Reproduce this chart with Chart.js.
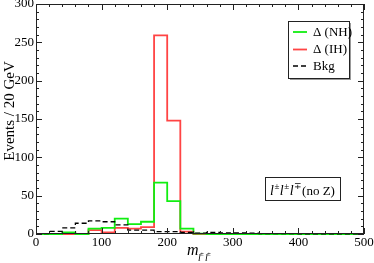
<!DOCTYPE html>
<html>
<head>
<meta charset="utf-8">
<script src="https://cdn.jsdelivr.net/npm/chart.js@4/dist/chart.umd.min.js"></script>
<style>
  html, body { margin: 0; padding: 0; background: #fff; }
  #wrap { width: 374px; height: 263px; }
</style>
</head>
<body>
<div id="wrap"><canvas id="histChart" width="374" height="263"></canvas></div>
<script>
// Bin edges (GeV), 20 GeV bins
const binEdges = [0, 20, 40, 60, 80, 100, 120, 140, 160, 180, 200, 220, 240, 260,
                  280, 300, 320, 340, 360, 380, 400, 420, 440, 460, 480, 500];

// Events per bin (25 bins)
const deltaNH = [0, 0, 2, 0, 7, 8, 20, 13, 16, 67, 43, 7, 0.5, 0, 0, 0, 0, 0, 0, 0, 0, 0, 0, 0, 0];
const deltaIH = [0, 0, 0, 0, 5, 2, 8, 7, 9, 259, 148, 3, 0, 0, 0, 0, 0, 0, 0, 0, 0, 0, 0, 0, 0];
const bkg     = [0.5, 3.5, 8, 14, 17, 16, 12, 5, 5, 3, 3, 2, 1, 2, 1.5, 1.5, 1, 0.5, 0.5, 0.4, 0.3, 0.3, 0.3, 0.2, 0.2];

const xTicks = [0, 100, 200, 300, 400, 500];
const yTicks = [0, 50, 100, 150, 200, 250, 300];

const serif = '"Liberation Serif", "DejaVu Serif", serif';

// turn per-bin values into step points (last edge repeats last value)
function stepPoints(values) {
    const pts = values.map((v, i) => ({ x: binEdges[i], y: v }));
    pts.push({ x: binEdges[binEdges.length - 1], y: values[values.length - 1] });
    return pts;
}

// axes, frame, ticks, legend and labels drawn by hand
const decorPlugin = {
    id: 'decor',
    afterDatasetsDraw(chart) {
        const ctx = chart.ctx;
        const xs = chart.scales.x, ys = chart.scales.y;
        const a = chart.chartArea;
        ctx.save();

        // frame
        ctx.strokeStyle = '#222';
        ctx.lineWidth = 1;
        ctx.strokeRect(a.left + 0.5, a.top + 0.5, a.right - a.left - 1, a.bottom - a.top - 1);

        // inward ticks on all four sides
        ctx.beginPath();
        for (let v = 0; v <= 500; v += 20) {
            const px = Math.round(xs.getPixelForValue(v)) + 0.5;
            const len = v % 100 === 0 ? 6 : 3;
            ctx.moveTo(px, a.bottom); ctx.lineTo(px, a.bottom - len);
            ctx.moveTo(px, a.top); ctx.lineTo(px, a.top + len);
        }
        for (let v = 0; v <= 300; v += 10) {
            const py = Math.round(ys.getPixelForValue(v)) + 0.5;
            const len = v % 50 === 0 ? 6 : 3;
            ctx.moveTo(a.left, py); ctx.lineTo(a.left + len, py);
            ctx.moveTo(a.right, py); ctx.lineTo(a.right - len, py);
        }
        ctx.stroke();

        // tick labels
        ctx.fillStyle = '#000';
        ctx.font = '13px ' + serif;
        ctx.textAlign = 'center';
        ctx.textBaseline = 'top';
        xTicks.forEach(v => ctx.fillText(String(v), xs.getPixelForValue(v), a.bottom + 2));
        ctx.textAlign = 'right';
        ctx.textBaseline = 'middle';
        yTicks.forEach(v => ctx.fillText(String(v), a.left - 2, ys.getPixelForValue(v)));

        // y title
        ctx.save();
        ctx.translate(10, 111);
        ctx.rotate(-Math.PI / 2);
        ctx.textAlign = 'center';
        ctx.textBaseline = 'middle';
        ctx.font = '15px ' + serif;
        ctx.fillText('Events / 20 GeV', 0, 0);
        ctx.restore();

        // x title  m_{l± l±}
        ctx.textAlign = 'left';
        ctx.textBaseline = 'alphabetic';
        ctx.font = 'italic 16px ' + serif;
        ctx.fillText('m', 187, 255);
        ctx.font = 'italic 10px ' + serif;
        ctx.fillText('l', 198, 261);
        ctx.fillText('l', 205, 261);
        ctx.font = '7px ' + serif;
        ctx.fillText('\u00b1', 200, 256);
        ctx.fillText('\u00b1', 207, 256);

        // legend box with shadow
        const lx = 288, ly = 21, lw = 61, lh = 57;
        ctx.fillStyle = '#999';
        ctx.fillRect(lx + 2, ly + 2, lw, lh);
        ctx.fillStyle = '#fff';
        ctx.fillRect(lx, ly, lw, lh);
        ctx.strokeStyle = '#222';
        ctx.strokeRect(lx + 0.5, ly + 0.5, lw, lh);
        const rows = [32, 49.5, 66];
        chart.data.datasets.forEach((ds, i) => {
            ctx.strokeStyle = ds.borderColor;
            ctx.lineWidth = ds.borderWidth;
            ctx.setLineDash(ds.borderDash || []);
            ctx.beginPath();
            ctx.moveTo(293, rows[i]);
            ctx.lineTo(307, rows[i]);
            ctx.stroke();
            ctx.setLineDash([]);
            ctx.fillStyle = '#000';
            ctx.font = '13px ' + serif;
            ctx.textBaseline = 'middle';
            ctx.fillText(ds.label, 313, rows[i] + 0.5);
        });

        // channel label box
        ctx.lineWidth = 1;
        ctx.strokeStyle = '#222';
        ctx.strokeRect(265.5, 177.5, 75, 23);
        ctx.fillStyle = '#000';
        ctx.textBaseline = 'alphabetic';
        let tx = 270;
        ['\u00b1', '\u00b1', '\u2213'].forEach(sign => {
            ctx.font = 'italic 14px ' + serif;
            ctx.fillText('l', tx, 195);
            tx += ctx.measureText('l').width + 0.5;
            ctx.font = '9px ' + serif;
            ctx.fillText(sign, tx, 189);
            tx += ctx.measureText(sign).width + 0.5;
        });
        ctx.font = '13px ' + serif;
        ctx.fillText('(no Z)', tx, 195);

        ctx.restore();
    }
};

new Chart(document.getElementById('histChart'), {
    type: 'line',
    data: {
        datasets: [
            {
                label: '\u0394 (NH)',
                data: stepPoints(deltaNH),
                borderColor: '#11ee11',
                borderWidth: 1.8,
                stepped: 'before',
                pointRadius: 0,
                order: 1
            },
            {
                label: '\u0394 (IH)',
                data: stepPoints(deltaIH),
                borderColor: '#ff4444',
                borderWidth: 1.8,
                stepped: 'before',
                pointRadius: 0,
                order: 2
            },
            {
                label: 'Bkg',
                data: stepPoints(bkg),
                borderColor: '#000',
                borderWidth: 1.3,
                borderDash: [5, 3],
                stepped: 'before',
                pointRadius: 0,
                order: 0
            }
        ]
    },
    options: {
        responsive: false,
        animation: false,
        clip: 2,
        layout: { padding: { left: 36, right: 10, top: 4, bottom: 29 } },
        plugins: { legend: { display: false }, tooltip: { enabled: false } },
        scales: {
            x: { type: 'linear', min: 0, max: 500, display: false },
            y: { type: 'linear', min: 0, max: 300, display: false }
        }
    },
    plugins: [decorPlugin]
});
</script>
</body>
</html>
